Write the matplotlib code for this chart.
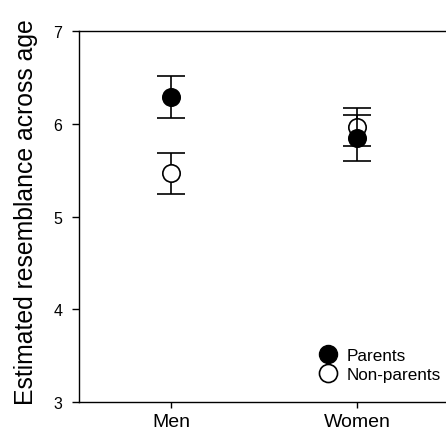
import matplotlib.pyplot as plt
from matplotlib.lines import Line2D

plt.rcParams['font.family'] = ['Liberation Sans', 'DejaVu Sans']

groups = ["Men", "Women"]
parents = [6.29, 5.85]
parents_err = [0.225, 0.248]
nonparents = [5.47, 5.97]
nonparents_err = [0.222, 0.206]

fig = plt.figure(figsize=(4.46, 4.35), dpi=100)
ax = fig.add_axes([0.177, 0.073, 0.9, 0.853])

x = range(len(groups))
ax.errorbar(x, nonparents, yerr=nonparents_err, fmt='o', ms=12.5, mfc='white',
            mec='black', mew=1.2, ecolor='black', elinewidth=1.2, capsize=10,
            capthick=1.2, zorder=3)
ax.errorbar(x, parents, yerr=parents_err, fmt='o', ms=12.5, mfc='black',
            mec='black', mew=1.2, ecolor='black', elinewidth=1.2, capsize=10,
            capthick=1.2, zorder=4)

ax.set_xlim(-0.494, 1.661)
ax.set_ylim(3, 7)
ax.set_yticks([3, 4, 5, 6, 7])
ax.set_xticks(list(x))
ax.set_xticklabels(groups, fontsize=14)
ax.tick_params(axis='y', labelsize=11.5, direction='out', length=5, width=1, pad=7)
ax.tick_params(axis='x', direction='out', length=4.5, width=1, pad=3)
ax.set_ylabel("Estimated resemblance across age", fontsize=17.8)
ax.yaxis.set_label_coords(-0.102, 0.514)
ax.spines['right'].set_visible(False)
for s in ax.spines.values():
    s.set_linewidth(1)

handles = [
    Line2D([], [], marker='o', ls='', ms=13, mfc='black', mec='black'),
    Line2D([], [], marker='o', ls='', ms=13, mfc='white', mec='black', mew=1.2),
]
ax.legend(handles, ["Parents", "Non-parents"], loc='center left',
          bbox_to_anchor=(319 / 446, 1 - 366 / 435), bbox_transform=fig.transFigure,
          frameon=False, fontsize=12.3, handlelength=1, handletextpad=0.6,
          labelspacing=0.2, borderpad=0, borderaxespad=0)

fig.savefig("out.png", dpi=100)
